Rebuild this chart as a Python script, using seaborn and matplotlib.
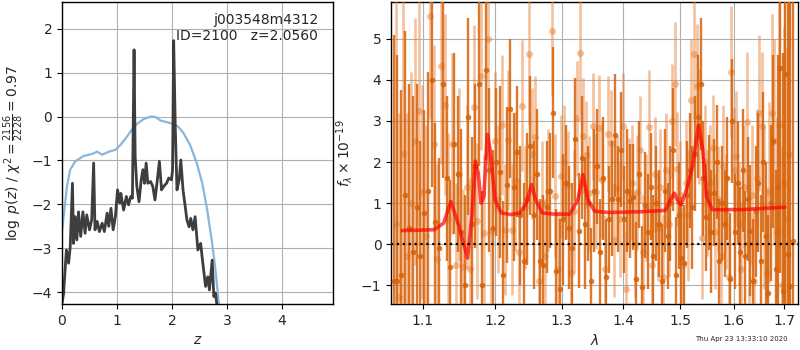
import matplotlib
matplotlib.use("Agg")
import matplotlib.pyplot as plt
from matplotlib.ticker import NullLocator, FixedLocator, FixedFormatter
import numpy as np
import pandas as pd
import seaborn as sns

# --- redshift panel: log p(z) (dark) and prior-like curve (blue)
z_pdf = [0.0, 0.03, 0.04, 0.08, 0.12, 0.15, 0.19, 0.21, 0.24, 0.27, 0.30, 0.34, 0.38,
         0.42, 0.45, 0.50, 0.54, 0.575, 0.60, 0.64, 0.68, 0.73, 0.77, 0.82, 0.85, 0.89,
         0.93, 0.97, 1.01, 1.05, 1.07, 1.12, 1.17, 1.21, 1.25, 1.28, 1.31, 1.33, 1.36,
         1.40, 1.44, 1.47, 1.50, 1.53, 1.56, 1.61, 1.65, 1.69, 1.73, 1.77, 1.81, 1.85,
         1.90, 1.94, 1.99, 2.01, 2.03, 2.06, 2.09, 2.13, 2.16, 2.20, 2.24, 2.27, 2.31,
         2.34, 2.38, 2.42, 2.47, 2.52, 2.56, 2.61, 2.65, 2.68, 2.73, 2.76, 2.79, 2.82]
logp = [-4.25, -4.03, -3.8, -3.04, -3.34, -2.96, -1.52, -2.89, -2.28, -2.81, -2.17, -2.73,
        -2.17, -2.66, -2.24, -2.58, -2.35, -1.06, -2.58, -2.39, -2.62, -2.43, -2.62, -2.2,
        -2.5, -2.09, -2.58, -2.28, -1.67, -1.97, -1.75, -2.13, -1.82, -2.01, -1.82, -1.86,
        1.52, -0.91, -1.59, -1.94, -1.44, -1.21, -1.52, -1.06, -1.52, -1.48, -1.59, -1.90,
        -1.48, -1.02, -1.67, -1.59, -1.52, -1.40, -1.44, -1.21, 1.73, -0.3, -1.67, -1.44,
        -0.99, -1.67, -2.05, -2.35, -2.51, -2.32, -2.58, -2.28, -3.04, -2.89, -3.34, -3.87,
        -3.65, -3.95, -3.27, -4.1, -4.02, -4.33]

z_prior = [0.0, 0.03, 0.09, 0.15, 0.24, 0.39, 0.55, 0.64, 0.73, 0.85, 0.97, 1.06, 1.18,
           1.27, 1.36, 1.48, 1.61, 1.70, 1.79, 1.91, 2.03, 2.12, 2.21, 2.33, 2.45, 2.55,
           2.64, 2.73, 2.79, 2.85, 2.90]
prior = [-2.6, -2.28, -1.59, -1.21, -1.02, -0.9, -0.85, -0.80, -0.87, -0.8, -0.76, -0.65,
         -0.46, -0.30, -0.17, -0.06, 0.0, -0.01, -0.09, -0.13, -0.17, -0.24, -0.38, -0.65,
         -1.06, -1.52, -2.13, -2.89, -3.49, -4.25, -4.7]

# --- spectrum panel, beam A (darker)
wave_a = [1.062, 1.067, 1.072, 1.077, 1.082, 1.087, 1.092, 1.097, 1.102, 1.107, 1.112, 1.117,
          1.122, 1.127, 1.132, 1.137, 1.142, 1.147, 1.152, 1.157, 1.162, 1.167, 1.172, 1.177,
          1.182, 1.187, 1.192, 1.197, 1.202, 1.207, 1.212, 1.217, 1.222, 1.227, 1.232, 1.237,
          1.242, 1.247, 1.252, 1.257, 1.262, 1.267, 1.272, 1.277, 1.282, 1.287, 1.292, 1.297,
          1.302, 1.307, 1.312, 1.317, 1.322, 1.327, 1.332, 1.337, 1.342, 1.347, 1.352, 1.357,
          1.362, 1.367, 1.372, 1.377, 1.382, 1.387, 1.392, 1.397, 1.402, 1.407, 1.412, 1.417,
          1.422, 1.427, 1.432, 1.437, 1.442, 1.447, 1.452, 1.457, 1.462, 1.467, 1.472, 1.477,
          1.482, 1.487, 1.492, 1.497, 1.502, 1.507, 1.512, 1.517, 1.522, 1.527, 1.532, 1.537,
          1.542, 1.547, 1.552, 1.557, 1.562, 1.567, 1.572, 1.577, 1.582, 1.587, 1.592, 1.597,
          1.602, 1.607, 1.612, 1.617, 1.622, 1.627, 1.632, 1.637, 1.642, 1.647, 1.652, 1.657,
          1.662, 1.667, 1.672, 1.677, 1.682, 1.687, 1.692, 1.697, 1.702, 1.707, 1.712, 1.717]
flux_a = [-0.9, -0.9, -0.75, 1.2, 0.4, -0.2, 0.9, -0.3, 0.76, 1.3, 4.0, 0.55,
          -0.1, 3.9, 1.6, -0.55, 2.45, 1.7, 0.3, -1.0, 3.1, 0.5, 1.9, 3.9,
          -1.0, 4.25, 1.8, 0.4, 2.0, 1.75, -0.75, 1.45, 3.3, 1.4, 2.25, 0.7,
          -0.4, 1.1, 2.4, 0.7, 1.7, -0.4, -0.5, 0.9, 1.3, 3.2, -0.65, -1.1,
          0.6, 1.5, 0.4, -0.1, 2.55, 0.33, 2.1, 0.5, 1.0, -0.9, 1.3, 1.9,
          -0.2, 1.6, -0.8, 0.6, 1.1, 2.65, 1.1, 2.3, 0.6, 1.3, 1.05, 1.15,
          -0.85, 1.7, -1.05, 0.95, 0.3, 1.4, -0.3, 1.0, 0.5, -0.9, 1.3, 0.2,
          1.0, 2.3, -0.75, 0.7, -0.35, -0.45, 1.2, 1.8, 0.9, 2.2, 3.1, 3.9,
          1.6, 0.65, 1.25, 0.3, 1.25, 2.0, -0.4, 1.0, 0.5, 1.6, -0.85, 3.0,
          0.3, 1.5, -0.2, 1.8, -0.3, 1.1, 0.33, -0.9, 0.8, 1.5, -0.4, 2.0,
          0.2, -1.2, 1.0, 2.5, -0.6, 1.4, 4.3, -1.15, 4.15, -0.25, -1.03, 0.07]
err_a = [6.0, 5.5, 4.5, 4.0, 3.5, 3.8, 3.0, 2.8, 2.5, 2.9, 2.6, 2.4,
         2.2, 2.3, 2.0, 2.1, 2.2, 1.9, 2.5, 2.2, 2.4, 2.1, 2.0, 2.0,
         2.3, 2.2, 2.0, 1.9, 1.8, 2.1, 1.8, 1.9, 1.7, 1.8, 1.6, 1.7,
         1.9, 1.6, 1.7, 1.8, 1.6, 1.5, 1.7, 1.6, 1.4, 1.6, 1.5, 1.7,
         1.6, 1.4, 1.5, 1.6, 1.5, 1.4, 1.5, 1.6, 1.4, 1.3, 1.5, 1.4,
         1.3, 1.5, 1.4, 1.3, 1.4, 1.5, 1.3, 1.4, 1.3, 1.5, 1.4, 1.3,
         1.4, 1.3, 1.5, 1.3, 1.4, 1.3, 1.5, 1.4, 1.3, 1.4, 1.5, 1.3,
         1.4, 1.5, 1.4, 1.3, 1.5, 1.4, 1.3, 1.4, 1.5, 1.4, 1.5, 1.6,
         1.4, 1.3, 1.4, 1.5, 1.3, 1.4, 1.5, 1.4, 1.3, 1.5, 1.6, 1.5,
         1.4, 1.5, 1.6, 1.5, 1.6, 1.5, 1.6, 1.5, 1.6, 1.7, 1.6, 1.7,
         1.8, 1.9, 1.9, 2.1, 2.4, 3.2, 5.0, 5.8, 6.5, 7.0, 7.5, 8.0]

# --- spectrum panel, beam B (lighter)
wave_b = [1.0645, 1.0695, 1.0745, 1.0795, 1.0845, 1.0895, 1.0945, 1.0995, 1.1045, 1.1095,
          1.1145, 1.1195, 1.1245, 1.1295, 1.1345, 1.1395, 1.1445, 1.1495, 1.1545, 1.1595,
          1.1645, 1.1695, 1.1745, 1.1795, 1.1845, 1.1895, 1.1945, 1.1995, 1.2045, 1.2095,
          1.2145, 1.2195, 1.2245, 1.2295, 1.2345, 1.2395, 1.2445, 1.2495, 1.2545, 1.2595,
          1.2645, 1.2695, 1.2745, 1.2795, 1.2845, 1.2895, 1.2945, 1.2995, 1.3045, 1.3095,
          1.3145, 1.3195, 1.3245, 1.3295, 1.3345, 1.3395, 1.3445, 1.3495, 1.3545, 1.3595,
          1.3645, 1.3695, 1.3745, 1.3795, 1.3845, 1.3895, 1.3945, 1.3995, 1.4045, 1.4095,
          1.4145, 1.4195, 1.4245, 1.4295, 1.4345, 1.4395, 1.4445, 1.4495, 1.4545, 1.4595,
          1.4645, 1.4695, 1.4745, 1.4795, 1.4845, 1.4895, 1.4945, 1.4995, 1.5045, 1.5095,
          1.5145, 1.5195, 1.5245, 1.5295, 1.5345, 1.5395, 1.5445, 1.5495, 1.5545, 1.5595,
          1.5645, 1.5695, 1.5745, 1.5795, 1.5845, 1.5895, 1.5945, 1.5995, 1.6045, 1.6095,
          1.6145, 1.6195, 1.6245, 1.6295, 1.6345, 1.6395, 1.6445, 1.6495, 1.6545, 1.6595,
          1.6645, 1.6695, 1.6745, 1.6795, 1.6845, 1.6895, 1.6945, 1.6995, 1.7045, 1.7095]
flux_b = [0.5, -1.3, 2.2, -0.3, 1.0, 2.5, 3.25, 1.27, 0.2, 5.55,
          2.45, -0.36, 4.35, 3.4, 0.6, 2.45, -0.5, 1.7, -0.55, 1.4,
          -0.6, 3.35, 0.57, 4.1, 0.27, 5.0, 0.31, 2.5, 1.1, 2.9,
          0.35, 2.53, 0.35, 1.53, -0.2, 3.37, 0.9, 4.62, 2.2, 2.6,
          -0.9, 1.0, -0.3, 1.3, 5.2, 1.18, -0.6, 1.65, 2.0, 1.45,
          -0.7, 0.8, 3.07, 4.65, 2.64, 2.18, 1.24, 2.87, 1.28, 2.83,
          1.57, -0.6, 2.69, 2.46, 0.1, 1.37, 0.6, 2.87, -1.1, 1.28,
          1.49, 0.0, 1.26, 2.3, -0.2, 0.9, 2.85, -0.5, 1.7, 0.4,
          1.4, -0.8, 1.8, 0.5, 3.0, 3.9, 1.83, 1.2, -0.5, 1.5,
          0.7, 3.5, 4.64, 3.86, 2.87, 0.15, 2.0, 1.0, 1.5, 2.34,
          0.3, 1.1, -0.3, 1.9, 0.8, -0.8, 4.2, 1.81, 2.14, 0.5,
          -0.6, 1.4, 2.98, 0.0, 1.2, -0.9, 1.6, 3.2, 2.87, 0.9,
          -0.7, 1.26, 3.2, 2.5, 0.3, 2.9, -1.0, 1.5, 0.6, 2.2]
err_b = [5.5, 4.5, 3.8, 3.5, 3.2, 3.0, 2.8, 2.6, 2.7, 2.5,
         2.4, 2.3, 2.4, 2.2, 2.1, 2.2, 2.0, 2.1, 1.9, 2.0,
         2.2, 2.0, 1.9, 1.8, 1.9, 2.0, 1.8, 1.7, 1.8, 1.7,
         1.6, 1.7, 1.6, 1.7, 1.8, 1.6, 1.5, 1.7, 1.6, 1.5,
         1.6, 1.5, 1.4, 1.5, 1.6, 1.5, 1.4, 1.5, 1.4, 1.3,
         1.4, 1.5, 1.4, 1.5, 1.4, 1.3, 1.4, 1.3, 1.4, 1.3,
         1.4, 1.3, 1.4, 1.3, 1.4, 1.3, 1.4, 1.3, 1.4, 1.3,
         1.4, 1.3, 1.4, 1.3, 1.4, 1.3, 1.4, 1.3, 1.4, 1.3,
         1.4, 1.5, 1.4, 1.3, 1.4, 1.5, 1.4, 1.3, 1.4, 1.5,
         1.6, 1.5, 1.6, 1.5, 1.4, 1.5, 1.4, 1.3, 1.4, 1.3,
         1.4, 1.3, 1.4, 1.5, 1.4, 1.5, 1.6, 1.5, 1.6, 1.5,
         1.6, 1.5, 1.7, 1.6, 1.7, 1.8, 1.7, 1.9, 1.8, 2.0,
         2.1, 2.2, 2.4, 2.5, 2.8, 3.0, 3.4, 3.8, 4.2, 4.5]

# --- best-fit model
wave_model = [1.073, 1.115, 1.128, 1.138, 1.149, 1.161, 1.167, 1.172, 1.176, 1.180, 1.184,
              1.189, 1.193, 1.200, 1.209, 1.223, 1.237, 1.246, 1.254, 1.260, 1.270, 1.289,
              1.313, 1.326, 1.334, 1.342, 1.353, 1.375, 1.432, 1.473, 1.482, 1.489, 1.497,
              1.502, 1.513, 1.522, 1.533, 1.541, 1.548, 1.559, 1.616, 1.701]
flux_model = [0.33, 0.35, 0.51, 1.04, 0.43, -0.34, 0.67, 2.02, 1.73, 1.0, 1.16,
              2.67, 2.3, 1.08, 0.76, 0.72, 0.76, 1.0, 1.45, 1.08, 0.76, 0.73,
              0.73, 1.08, 1.69, 1.08, 0.80, 0.77, 0.79, 0.82, 1.08, 1.24, 1.0,
              0.96, 1.41, 1.89, 2.89, 2.3, 1.16, 0.84, 0.84, 0.90]

lam_ticks = [1.1, 1.2, 1.3, 1.4, 1.5, 1.6, 1.7]

sns.set_style("ticks")
plt.rcParams['font.family'] = ['DejaVu Sans']

fig = plt.figure(figsize=(8, 3.5), dpi=100)
ax1 = fig.add_axes([0.0775, 0.1314, 0.339, 0.863])
ax2 = fig.add_axes([0.489, 0.1314, 0.509, 0.863])

# Redshift PDF
pdf_df = pd.DataFrame({'z': z_pdf, 'logp': logp})
prior_df = pd.DataFrame({'z': z_prior, 'prior': prior})
sns.lineplot(data=prior_df, x='z', y='prior', ax=ax1, color='#89b6da', lw=1.6,
             estimator=None, sort=False)
sns.lineplot(data=pdf_df, x='z', y='logp', ax=ax1, color='#333333', lw=2, alpha=0.95,
             estimator=None, sort=False)
ax1.set_xlim(0, 4.93)
ax1.set_ylim(-4.27, 2.61)
ax1.set_xticks([0, 1, 2, 3, 4])
ax1.set_yticks([-4, -3, -2, -1, 0, 1, 2])
ax1.grid(True, color='#b0b0b0', lw=0.8)
ax1.set_xlabel('$z$')
ax1.set_ylabel(r'$\log\ p(z)$ / $\chi^2=\frac{2156}{2228}=0.97$')
ax1.text(0.945, 0.965, 'j003548m4312\nID=2100   z=2.0560', ha='right', va='top',
         transform=ax1.transAxes, fontsize=10)

# Spectrum
ax2.errorbar(wave_b, flux_b, yerr=err_b, fmt='o', color='#e8843a', alpha=0.5,
             ms=5, elinewidth=1.9, capsize=0, mec='none', zorder=3)
ax2.errorbar(wave_a, flux_a, yerr=err_a, fmt='o', color='#d6620a', alpha=0.85,
             ms=4, elinewidth=1.7, capsize=0, mec='none', zorder=4)
model_df = pd.DataFrame({'wave': wave_model, 'flux': flux_model})
sns.lineplot(data=model_df, x='wave', y='flux', ax=ax2, color='red', lw=2.6, alpha=0.7,
             estimator=None, sort=False, zorder=6)
ax2.axhline(0, color='k', ls=':', lw=1.6, zorder=7)
ax2.set_xscale('log')
ax2.set_xlim(1.059, 1.729)
ax2.set_ylim(-1.46, 5.9)
ax2.xaxis.set_major_locator(FixedLocator(lam_ticks))
ax2.xaxis.set_major_formatter(FixedFormatter([f'{t:.1f}' for t in lam_ticks]))
ax2.xaxis.set_minor_locator(NullLocator())
ax2.set_yticks([-1, 0, 1, 2, 3, 4, 5])
ax2.grid(True, color='#b0b0b0', lw=0.8)
ax2.set_axisbelow(True)
ax2.set_xlabel(r'$\lambda$')
ax2.set_ylabel(r'$f_\lambda\times10^{-19}$')

for ax in (ax1, ax2):
    for sp in ax.spines.values():
        sp.set_visible(True)
        sp.set_color('black')
        sp.set_linewidth(1.0)
    ax.tick_params(direction='out', length=3.5, width=0.8, color='black', labelsize=10)

fig.text(0.984, 0.022, 'Thu Apr 23 13:33:10 2020', ha='right', va='bottom', fontsize=5)

fig.savefig('out.png', dpi=100)
